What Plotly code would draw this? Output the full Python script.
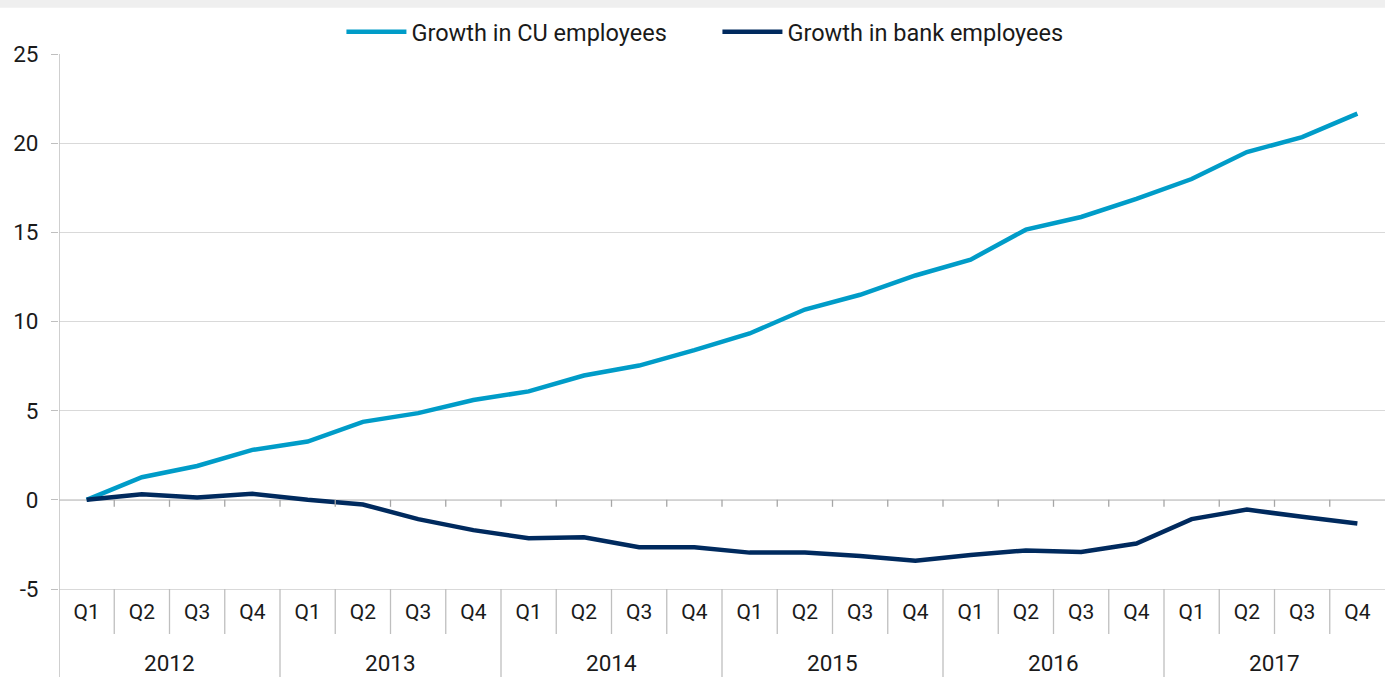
import plotly.graph_objects as go

years = ["2012", "2013", "2014", "2015", "2016", "2017"]
quarters = ["Q1", "Q2", "Q3", "Q4"]

cu_growth = [0.0, 1.27, 1.9, 2.8, 3.27, 4.37, 4.86, 5.6,
             6.08, 6.97, 7.53, 8.39, 9.33, 10.67, 11.5, 12.58,
             13.47, 15.15, 15.86, 16.87, 17.99, 19.5, 20.34, 21.66]
bank_growth = [0.0, 0.31, 0.13, 0.34, 0.0, -0.26, -1.08, -1.7,
               -2.15, -2.1, -2.66, -2.66, -2.96, -2.96, -3.15, -3.41,
               -3.09, -2.84, -2.93, -2.45, -1.08, -0.55, -0.95, -1.33]

series_names = ["Growth in CU employees", "Growth in bank employees"]
series_colors = ["#009cc8", "#002a5e"]

y_ticks = [-5, 0, 5, 10, 15, 20, 25]
y_ticktext = ["-5", "0", "5", "10", "15", "20", "25"]

n = len(years) * len(quarters)
xs = list(range(n))
qlabels = [q for _ in years for q in quarters]

FONT = "Roboto"
AX = "#bfbfbf"
TXT = "#1a1a1a"

fig = go.Figure()
for name, vals, col in zip(series_names, [cu_growth, bank_growth], series_colors):
    fig.add_trace(go.Scatter(x=xs, y=vals, mode="lines", name=name,
                             line=dict(color=col, width=4.5),
                             hoverinfo="skip"))

shapes = []
# top gray band
shapes.append(dict(type="rect", xref="paper", yref="paper", x0=-0.1, x1=1.1,
                   y0=1.0866, y1=1.2, fillcolor="#efefef", line=dict(width=0), layer="below"))
# zero line
shapes.append(dict(type="line", xref="paper", yref="y", x0=0, x1=1, y0=0, y1=0,
                   line=dict(color="#a6a6a6", width=1.3), layer="below"))
# vertical left axis line extended to bottom
shapes.append(dict(type="line", xref="x", yref="paper", x0=-0.5, x1=-0.5, y0=1, y1=-0.2,
                   line=dict(color=AX, width=1.5)))
for i in range(n - 1):
    b = i + 0.5
    # small ticks under zero line
    shapes.append(dict(type="line", xref="x", yref="y", ysizemode="pixel", yanchor=0,
                       x0=b, x1=b, y0=0, y1=-7, line=dict(color="#a6a6a6", width=1.3)))
    # separators below the category axis
    length = -95 if (i + 1) % len(quarters) == 0 else -45
    shapes.append(dict(type="line", xref="x", yref="paper", ysizemode="pixel", yanchor=0,
                       x0=b, x1=b, y0=0, y1=length, line=dict(color=AX, width=1.3)))

annotations = []
for gi, yr in enumerate(years):
    center = gi * len(quarters) + (len(quarters) - 1) / 2
    annotations.append(dict(x=center, xref="x", y=-0.138, yref="paper", text=yr,
                            showarrow=False, yanchor="middle",
                            font=dict(family=FONT, size=22.5, color=TXT)))

fig.update_layout(
    width=1385, height=677,
    margin=dict(l=59, r=0, t=54, b=88, autoexpand=False),
    paper_bgcolor="white", plot_bgcolor="white",
    shapes=shapes, annotations=annotations,
    showlegend=True,
    legend=dict(orientation="h", x=0.518, xanchor="center", xref="container",
                y=0.9527, yanchor="middle", yref="container",
                font=dict(family=FONT, size=23.5, color=TXT),
                bgcolor="rgba(0,0,0,0)", itemwidth=60,
                entrywidth=301, entrywidthmode="pixels"),
    xaxis=dict(range=[-0.5, n - 0.5], tickmode="array", tickvals=xs, ticktext=qlabels,
               showgrid=False, zeroline=False, showline=True, linecolor="#d9d9d9",
               linewidth=1.3, ticks="outside", ticklen=4, tickcolor="rgba(0,0,0,0)",
               tickfont=dict(family=FONT, size=21, color=TXT), fixedrange=True),
    yaxis=dict(range=[-5, 25], tickmode="array", tickvals=y_ticks, ticktext=y_ticktext,
               showgrid=True, gridcolor="#d9d9d9", gridwidth=1.3, zeroline=False,
               showline=False, ticks="outside", ticklen=7, tickcolor=AX,
               ticklabelstandoff=8,
               tickfont=dict(family=FONT, size=22.5, color=TXT), fixedrange=True),
)

fig.write_html("out.html")
